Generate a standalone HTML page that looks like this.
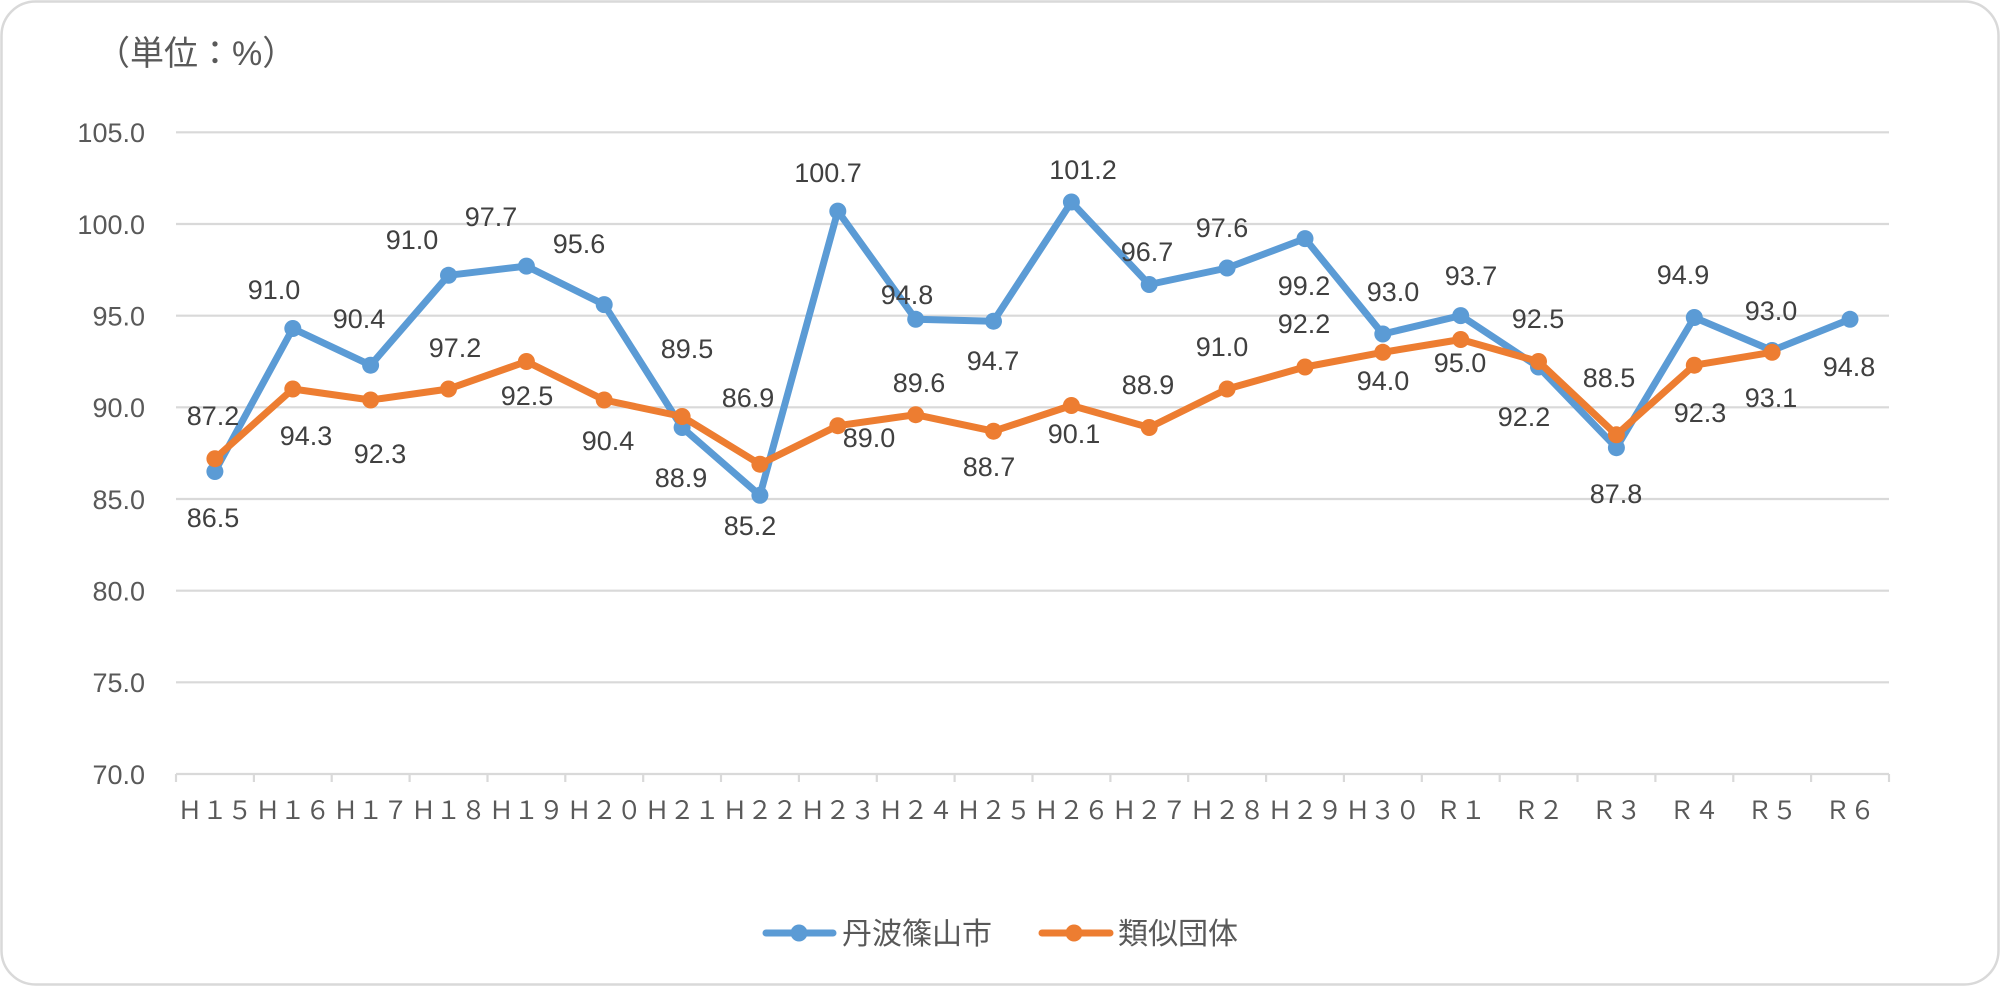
<!DOCTYPE html>
<html><head><meta charset="utf-8"><style>
html,body{margin:0;padding:0;background:#fff;}
svg{display:block;}
.yl{font-family:"Liberation Sans","Noto Sans CJK JP",sans-serif;font-size:27px;fill:#595959;text-anchor:end;}
.xl{font-family:"Noto Sans CJK JP","Liberation Sans",sans-serif;font-size:25px;fill:#595959;text-anchor:middle;}
.dl{font-family:"Liberation Sans","Noto Sans CJK JP",sans-serif;font-size:27px;fill:#404040;text-anchor:middle;}
.lg{font-family:"Liberation Sans","Noto Sans CJK JP",sans-serif;font-size:30px;fill:#595959;}
.tt{font-family:"Liberation Sans","Noto Sans CJK JP",sans-serif;font-size:34px;fill:#595959;}
</style></head><body>
<svg width="2000" height="986" viewBox="0 0 2000 986" xmlns="http://www.w3.org/2000/svg">
<rect x="1.5" y="1.5" width="1997" height="983" rx="34" ry="34" fill="#fff" stroke="#D9D9D9" stroke-width="2.5"/>
<text class="tt" x="96" y="65">（単位：%）</text>
<g stroke="#D9D9D9" stroke-width="2.2">
<line x1="176" y1="132.3" x2="1889" y2="132.3"/>
<line x1="176" y1="224" x2="1889" y2="224"/>
<line x1="176" y1="315.7" x2="1889" y2="315.7"/>
<line x1="176" y1="407.3" x2="1889" y2="407.3"/>
<line x1="176" y1="499" x2="1889" y2="499"/>
<line x1="176" y1="590.7" x2="1889" y2="590.7"/>
<line x1="176" y1="682.3" x2="1889" y2="682.3"/>
<line x1="176" y1="774" x2="1889" y2="774"/>
<line x1="176" y1="774" x2="176" y2="782"/><line x1="253.9" y1="774" x2="253.9" y2="782"/><line x1="331.7" y1="774" x2="331.7" y2="782"/><line x1="409.6" y1="774" x2="409.6" y2="782"/><line x1="487.5" y1="774" x2="487.5" y2="782"/><line x1="565.3" y1="774" x2="565.3" y2="782"/><line x1="643.2" y1="774" x2="643.2" y2="782"/><line x1="721" y1="774" x2="721" y2="782"/><line x1="798.9" y1="774" x2="798.9" y2="782"/><line x1="876.8" y1="774" x2="876.8" y2="782"/><line x1="954.6" y1="774" x2="954.6" y2="782"/><line x1="1032.5" y1="774" x2="1032.5" y2="782"/><line x1="1110.4" y1="774" x2="1110.4" y2="782"/><line x1="1188.2" y1="774" x2="1188.2" y2="782"/><line x1="1266.1" y1="774" x2="1266.1" y2="782"/><line x1="1343.9" y1="774" x2="1343.9" y2="782"/><line x1="1421.8" y1="774" x2="1421.8" y2="782"/><line x1="1499.7" y1="774" x2="1499.7" y2="782"/><line x1="1577.5" y1="774" x2="1577.5" y2="782"/><line x1="1655.4" y1="774" x2="1655.4" y2="782"/><line x1="1733.3" y1="774" x2="1733.3" y2="782"/><line x1="1811.1" y1="774" x2="1811.1" y2="782"/><line x1="1889" y1="774" x2="1889" y2="782"/>
</g>
<g>
<text class="yl" x="145" y="142">105.0</text>
<text class="yl" x="145" y="234">100.0</text>
<text class="yl" x="145" y="325.5">95.0</text>
<text class="yl" x="145" y="417">90.0</text>
<text class="yl" x="145" y="509">85.0</text>
<text class="yl" x="145" y="600.5">80.0</text>
<text class="yl" x="145" y="692">75.0</text>
<text class="yl" x="145" y="784">70.0</text>
</g>
<g>
<text class="xl" x="214.9" y="819">Ｈ１５</text>
<text class="xl" x="292.8" y="819">Ｈ１６</text>
<text class="xl" x="370.6" y="819">Ｈ１７</text>
<text class="xl" x="448.5" y="819">Ｈ１８</text>
<text class="xl" x="526.4" y="819">Ｈ１９</text>
<text class="xl" x="604.2" y="819">Ｈ２０</text>
<text class="xl" x="682.1" y="819">Ｈ２１</text>
<text class="xl" x="759.9" y="819">Ｈ２２</text>
<text class="xl" x="837.8" y="819">Ｈ２３</text>
<text class="xl" x="915.7" y="819">Ｈ２４</text>
<text class="xl" x="993.5" y="819">Ｈ２５</text>
<text class="xl" x="1071.4" y="819">Ｈ２６</text>
<text class="xl" x="1149.2" y="819">Ｈ２７</text>
<text class="xl" x="1227.1" y="819">Ｈ２８</text>
<text class="xl" x="1305" y="819">Ｈ２９</text>
<text class="xl" x="1382.8" y="819">Ｈ３０</text>
<text class="xl" x="1460.7" y="819">Ｒ１</text>
<text class="xl" x="1538.5" y="819">Ｒ２</text>
<text class="xl" x="1616.4" y="819">Ｒ３</text>
<text class="xl" x="1694.3" y="819">Ｒ４</text>
<text class="xl" x="1772.1" y="819">Ｒ５</text>
<text class="xl" x="1850" y="819">Ｒ６</text>
</g>
<!-- blue series -->
<polyline fill="none" stroke="#5B9BD5" stroke-width="7" stroke-linejoin="round" stroke-linecap="round" points="214.9,471.5 292.8,328.5 370.6,365.2 448.5,275.3 526.4,266.1 604.2,304.6 682.1,427.5 759.9,495.3 837.8,211.1 915.7,319.3 993.5,321.2 1071.4,202 1149.2,284.5 1227.1,268 1305,238.6 1382.8,334 1460.7,315.6 1538.5,367 1616.4,447.7 1694.3,317.5 1772.1,350.5 1850,319.3"/>
<g fill="#5B9BD5">
<circle cx="214.9" cy="471.5" r="8.5"/><circle cx="292.8" cy="328.5" r="8.5"/><circle cx="370.6" cy="365.2" r="8.5"/><circle cx="448.5" cy="275.3" r="8.5"/><circle cx="526.4" cy="266.1" r="8.5"/><circle cx="604.2" cy="304.6" r="8.5"/><circle cx="682.1" cy="427.5" r="8.5"/><circle cx="759.9" cy="495.3" r="8.5"/><circle cx="837.8" cy="211.1" r="8.5"/><circle cx="915.7" cy="319.3" r="8.5"/><circle cx="993.5" cy="321.2" r="8.5"/><circle cx="1071.4" cy="202" r="8.5"/><circle cx="1149.2" cy="284.5" r="8.5"/><circle cx="1227.1" cy="268" r="8.5"/><circle cx="1305" cy="238.6" r="8.5"/><circle cx="1382.8" cy="334" r="8.5"/><circle cx="1460.7" cy="315.6" r="8.5"/><circle cx="1538.5" cy="367" r="8.5"/><circle cx="1616.4" cy="447.7" r="8.5"/><circle cx="1694.3" cy="317.5" r="8.5"/><circle cx="1772.1" cy="350.5" r="8.5"/><circle cx="1850" cy="319.3" r="8.5"/>
</g>
<!-- orange series -->
<polyline fill="none" stroke="#ED7D31" stroke-width="7" stroke-linejoin="round" stroke-linecap="round" points="214.9,458.7 292.8,389 370.6,400 448.5,389 526.4,361.5 604.2,400 682.1,416.5 759.9,464.2 837.8,425.7 915.7,414.7 993.5,431.2 1071.4,405.5 1149.2,427.5 1227.1,389 1305,367 1382.8,352.3 1460.7,339.5 1538.5,361.5 1616.4,434.8 1694.3,365.2 1772.1,352.3"/>
<g fill="#ED7D31">
<circle cx="214.9" cy="458.7" r="8.5"/><circle cx="292.8" cy="389" r="8.5"/><circle cx="370.6" cy="400" r="8.5"/><circle cx="448.5" cy="389" r="8.5"/><circle cx="526.4" cy="361.5" r="8.5"/><circle cx="604.2" cy="400" r="8.5"/><circle cx="682.1" cy="416.5" r="8.5"/><circle cx="759.9" cy="464.2" r="8.5"/><circle cx="837.8" cy="425.7" r="8.5"/><circle cx="915.7" cy="414.7" r="8.5"/><circle cx="993.5" cy="431.2" r="8.5"/><circle cx="1071.4" cy="405.5" r="8.5"/><circle cx="1149.2" cy="427.5" r="8.5"/><circle cx="1227.1" cy="389" r="8.5"/><circle cx="1305" cy="367" r="8.5"/><circle cx="1382.8" cy="352.3" r="8.5"/><circle cx="1460.7" cy="339.5" r="8.5"/><circle cx="1538.5" cy="361.5" r="8.5"/><circle cx="1616.4" cy="434.8" r="8.5"/><circle cx="1694.3" cy="365.2" r="8.5"/><circle cx="1772.1" cy="352.3" r="8.5"/>
</g>
<!-- data labels -->
<g>
<text class="dl" x="213" y="425">87.2</text>
<text class="dl" x="213" y="527">86.5</text>
<text class="dl" x="274" y="299">91.0</text>
<text class="dl" x="306" y="445">94.3</text>
<text class="dl" x="359" y="328">90.4</text>
<text class="dl" x="380" y="463">92.3</text>
<text class="dl" x="412" y="249">91.0</text>
<text class="dl" x="455" y="357">97.2</text>
<text class="dl" x="491" y="226">97.7</text>
<text class="dl" x="527" y="405">92.5</text>
<text class="dl" x="579" y="253">95.6</text>
<text class="dl" x="608" y="450">90.4</text>
<text class="dl" x="687" y="358">89.5</text>
<text class="dl" x="681" y="487">88.9</text>
<text class="dl" x="748" y="407">86.9</text>
<text class="dl" x="750" y="535">85.2</text>
<text class="dl" x="828" y="182">100.7</text>
<text class="dl" x="869" y="447">89.0</text>
<text class="dl" x="907" y="304">94.8</text>
<text class="dl" x="919" y="392">89.6</text>
<text class="dl" x="993" y="370">94.7</text>
<text class="dl" x="989" y="476">88.7</text>
<text class="dl" x="1083" y="179">101.2</text>
<text class="dl" x="1074" y="443">90.1</text>
<text class="dl" x="1147" y="261">96.7</text>
<text class="dl" x="1148" y="394">88.9</text>
<text class="dl" x="1222" y="237">97.6</text>
<text class="dl" x="1222" y="356">91.0</text>
<text class="dl" x="1304" y="295">99.2</text>
<text class="dl" x="1304" y="333">92.2</text>
<text class="dl" x="1393" y="301">93.0</text>
<text class="dl" x="1383" y="390">94.0</text>
<text class="dl" x="1471" y="285">93.7</text>
<text class="dl" x="1460" y="372">95.0</text>
<text class="dl" x="1538" y="328">92.5</text>
<text class="dl" x="1524" y="426">92.2</text>
<text class="dl" x="1609" y="387">88.5</text>
<text class="dl" x="1616" y="503">87.8</text>
<text class="dl" x="1683" y="284">94.9</text>
<text class="dl" x="1700" y="422">92.3</text>
<text class="dl" x="1771" y="320">93.0</text>
<text class="dl" x="1771" y="407">93.1</text>
<text class="dl" x="1849" y="376">94.8</text>
</g>
<!-- legend -->
<line x1="766" y1="933" x2="833" y2="933" stroke="#5B9BD5" stroke-width="7" stroke-linecap="round"/>
<circle cx="799" cy="933" r="8.5" fill="#5B9BD5"/>
<text class="lg" x="842" y="944">丹波篠山市</text>
<line x1="1042" y1="933" x2="1110" y2="933" stroke="#ED7D31" stroke-width="7" stroke-linecap="round"/>
<circle cx="1074" cy="933" r="8.5" fill="#ED7D31"/>
<text class="lg" x="1118" y="944">類似団体</text>
</svg>
</body></html>
